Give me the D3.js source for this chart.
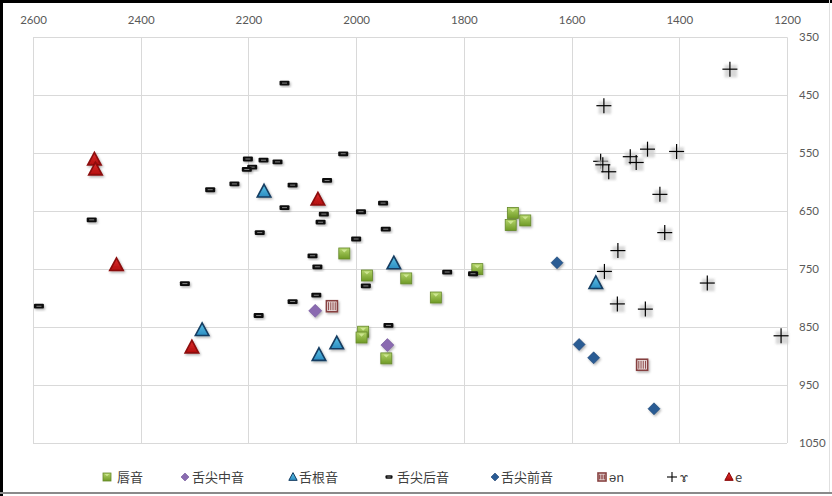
<!DOCTYPE html>
<html>
<head>
<meta charset="utf-8">
<script src="https://cdn.jsdelivr.net/npm/d3@7"></script>
<style>
  html, body { margin: 0; padding: 0; background: #fff; }
  svg { display: block; }
  .tick text { font-family: Lato, "Open Sans", sans-serif; font-size: 11.5px; fill: #595959; }
  .legend text { font-family: "Noto Sans CJK SC", sans-serif; font-size: 13px; fill: #404040; }
</style>
</head>
<body>
<svg id="chart" width="832" height="496"></svg>
<script>
// F2 (x) and F1 (y) in Hz for each consonant group
const labialF2 = [2022, 1980, 1907, 1987, 1990, 1944, 1852, 1775, 1709, 1686, 1713];
const labialF1 = [723, 761, 766, 858, 868, 904, 799, 750, 653, 666, 674];

const alveolarF2 = [2076, 1942];
const alveolarF1 = [822, 881];

const velarF2 = [2171, 1930, 2286, 2036, 2069, 1555];
const velarF1 = [616, 740, 855, 878, 898, 774];

const retroflexF2 = [2133, 2201, 2172, 2146, 2193, 2203, 2024, 2054, 2118, 2226, 2271, 2133, 1950, 1991, 2060, 2066,
                     2491, 2179, 1945, 2000, 2081, 2072, 2318, 2589, 1982, 2074, 2118, 2181, 1940, 1831, 1783];
const retroflexF1 = [429, 560, 562, 565, 574, 578, 551, 597, 605, 603, 613, 644, 636, 651, 655, 669,
                     665, 687, 681, 698, 727, 746, 775, 814, 779, 795, 806, 830, 847, 755, 758];

const dentalF2 = [1627, 1586, 1559, 1447];
const dentalF1 = [739, 880, 903, 991];

const enF2 = [2045, 1469];
const enF1 = [814, 915];

const gammaF2 = [1306, 1540, 1546, 1542, 1531, 1491, 1480, 1459, 1405, 1436, 1427, 1514, 1539, 1348, 1515, 1463, 1211];
const gammaF1 = [405, 468, 564, 570, 582, 556, 566, 543, 547, 621, 687, 718, 754, 774, 810, 819, 865];

const eF2 = [2486, 2484, 2071, 2445, 2305];
const eF1 = [561, 578, 630, 743, 885];

const xTicks = [2600, 2400, 2200, 2000, 1800, 1600, 1400, 1200];
const yTicks = [350, 450, 550, 650, 750, 850, 950, 1050];

const seriesNames = ["唇音", "舌尖中音", "舌根音", "舌尖后音", "舌尖前音", "ən", "ɤ", "e"];

const svg = d3.select("#chart");
const W = 832, H = 496;

const x = d3.scaleLinear().domain([2600, 1200]).range([33, 787]);
const y = d3.scaleLinear().domain([350, 1050]).range([37.3, 443]);

const defs = svg.append("defs");
const sh = defs.append("filter").attr("id", "shadow")
  .attr("x", "-50%").attr("y", "-50%").attr("width", "200%").attr("height", "200%");
sh.append("feDropShadow").attr("dx", 1.2).attr("dy", 1.5).attr("stdDeviation", 1)
  .attr("flood-color", "#000").attr("flood-opacity", 0.3);
const blur = defs.append("filter").attr("id", "soft")
  .attr("x", "-50%").attr("y", "-50%").attr("width", "200%").attr("height", "200%");
blur.append("feGaussianBlur").attr("stdDeviation", 1.2);

const gGreen = defs.append("linearGradient").attr("id", "gGreen").attr("x1", 0).attr("y1", 0).attr("x2", 0).attr("y2", 1);
gGreen.append("stop").attr("offset", "0%").attr("stop-color", "#b3d46a");
gGreen.append("stop").attr("offset", "100%").attr("stop-color", "#6f9a25");
const gBlue = defs.append("linearGradient").attr("id", "gBlue").attr("x1", 0).attr("y1", 0).attr("x2", 0).attr("y2", 1);
gBlue.append("stop").attr("offset", "0%").attr("stop-color", "#5fc3e6");
gBlue.append("stop").attr("offset", "100%").attr("stop-color", "#2b8dc2");
const gRed = defs.append("linearGradient").attr("id", "gRed").attr("x1", 0).attr("y1", 0).attr("x2", 0).attr("y2", 1);
gRed.append("stop").attr("offset", "0%").attr("stop-color", "#e03030");
gRed.append("stop").attr("offset", "100%").attr("stop-color", "#b00d0d");

// frame
svg.append("rect").attr("x", 0).attr("y", 0).attr("width", W).attr("height", H).attr("fill", "#fff");
svg.append("rect").attr("x", 0).attr("y", 0).attr("width", 3).attr("height", H).attr("fill", "#000");
svg.append("rect").attr("x", 0).attr("y", 0).attr("width", W).attr("height", 3).attr("fill", "#000");
svg.append("rect").attr("x", 0).attr("y", 492).attr("width", W).attr("height", 2).attr("fill", "#8a8a8a");
svg.append("rect").attr("x", 829).attr("y", 0).attr("width", 1).attr("height", 492).attr("fill", "#e0e0e0");

// grid
const grid = svg.append("g");
grid.selectAll("line.v").data(xTicks).join("line")
  .attr("x1", d => Math.round(x(d)) + 0.5).attr("x2", d => Math.round(x(d)) + 0.5)
  .attr("y1", y(350)).attr("y2", y(1050))
  .attr("stroke", "#d9d9d9").attr("stroke-width", 1);
grid.selectAll("line.h").data(yTicks).join("line")
  .attr("y1", d => Math.round(y(d)) + 0.5).attr("y2", d => Math.round(y(d)) + 0.5)
  .attr("x1", x(2600)).attr("x2", x(1200))
  .attr("stroke", "#d9d9d9").attr("stroke-width", 1);

// axes
const xAxis = svg.append("g").attr("transform", "translate(0,24)")
  .call(d3.axisTop(x).tickValues(xTicks).tickSize(0).tickPadding(0).tickFormat(d3.format("d")));
xAxis.select(".domain").remove();
const yAxis = svg.append("g").attr("transform", "translate(799,0)")
  .call(d3.axisRight(y).tickValues(yTicks).tickSize(0).tickPadding(0).tickFormat(d3.format("d")));
yAxis.select(".domain").remove();

// marker painters
function square(g, s) {
  g.append("rect").attr("x", -s / 2).attr("y", -s / 2).attr("width", s).attr("height", s)
    .attr("fill", "url(#gGreen)").attr("stroke", "#65882a").attr("stroke-width", 0.8);
  g.append("path").attr("d", `M${-s * 0.28},${-s * 0.36}L${s * 0.28},${-s * 0.36}L0,${-s * 0.08}Z`)
    .attr("fill", "#d4ea9a").attr("opacity", 0.85);
}
function diamond(color, stroke) {
  return (g, s) => g.append("path")
    .attr("d", `M0,${-s / 2}L${s / 2},0L0,${s / 2}L${-s / 2},0Z`)
    .attr("fill", color).attr("stroke", stroke).attr("stroke-width", 0.6);
}
function triangle(fill, stroke) {
  return (g, s) => g.append("path")
    .attr("d", `M0,${-s * 0.55}L${s * 0.52},${s * 0.42}L${-s * 0.52},${s * 0.42}Z`)
    .attr("fill", fill).attr("stroke", stroke).attr("stroke-width", s > 9 ? 1.6 : 1).attr("stroke-linejoin", "miter");
}
function dash(g, s) {
  g.append("rect").attr("x", -s / 2).attr("y", -s * 0.24).attr("width", s).attr("height", s * 0.48)
    .attr("rx", 1).attr("fill", "#111");
  g.append("rect").attr("x", -s * 0.25).attr("y", -0.4).attr("width", s * 0.5).attr("height", 0.8)
    .attr("fill", "#9a9a9a");
}
function striped(g, s) {
  g.append("rect").attr("x", -s / 2).attr("y", -s / 2).attr("width", s).attr("height", s)
    .attr("fill", "#f4eeee").attr("stroke", "#86403f").attr("stroke-width", 1.6);
  const n = 4;
  for (let i = 0; i < n; i++) {
    const cx = -s / 2 + (s / (n + 1)) * (i + 1);
    g.append("rect").attr("x", cx - 0.55).attr("y", -s / 2 + 1.5).attr("width", 1.1).attr("height", s - 3)
      .attr("fill", "#8e4a49");
  }
}
function cross(g, s) {
  g.append("rect").attr("x", -s * 0.42 + 1).attr("y", -s * 0.42 + 2).attr("width", s * 0.84).attr("height", s * 0.84)
    .attr("fill", "#cfcfcf").attr("filter", "url(#soft)").attr("opacity", 0.8);
  g.append("line").attr("x1", -s / 2).attr("x2", s / 2).attr("y1", 0).attr("y2", 0)
    .attr("stroke", "#000").attr("stroke-width", 1.2);
  g.append("line").attr("x1", 0).attr("x2", 0).attr("y1", -s / 2).attr("y2", s / 2)
    .attr("stroke", "#000").attr("stroke-width", 1.2);
}

const series = [
  { name: seriesNames[0], xs: labialF2, ys: labialF1, draw: square, size: 11, shadow: true },
  { name: seriesNames[1], xs: alveolarF2, ys: alveolarF1, draw: diamond("#8a6bb0", "#6f5397"), size: 13, shadow: true },
  { name: seriesNames[2], xs: velarF2, ys: velarF1, draw: triangle("url(#gBlue)", "#143d62"), size: 13, shadow: true },
  { name: seriesNames[3], xs: retroflexF2, ys: retroflexF1, draw: dash, size: 10, shadow: true },
  { name: seriesNames[4], xs: dentalF2, ys: dentalF1, draw: diamond("#2a5b94", "#1c416e"), size: 12, shadow: true },
  { name: seriesNames[5], xs: enF2, ys: enF1, draw: striped, size: 11, shadow: true },
  { name: seriesNames[6], xs: gammaF2, ys: gammaF1, draw: cross, size: 15, shadow: false },
  { name: seriesNames[7], xs: eF2, ys: eF1, draw: triangle("url(#gRed)", "#8b0a0a"), size: 13, shadow: true }
];

const plot = svg.append("g");
series.forEach(s => {
  const pts = s.xs.map((v, i) => [v, s.ys[i]]);
  const g = plot.append("g");
  g.selectAll("g").data(pts).join("g")
    .attr("transform", d => `translate(${x(d[0])},${y(d[1])})`)
    .attr("filter", s.shadow ? "url(#shadow)" : null)
    .each(function () { s.draw(d3.select(this), s.size); });
});

// legend
const legendPos = [
  { mx: 107, tx: 117 }, { mx: 185, tx: 192 }, { mx: 293, tx: 299 }, { mx: 389, tx: 397 },
  { mx: 495, tx: 501 }, { mx: 602, tx: 609 }, { mx: 672, tx: 680 }, { mx: 729, tx: 735 }
];
const legend = svg.append("g").attr("class", "legend");
series.forEach((s, i) => {
  const m = legend.append("g").attr("transform", `translate(${legendPos[i].mx},477)`);
  const lsize = s.draw === cross ? 11 : (s.draw === dash ? 7 : 8);
  if (s.draw === cross) {
    m.append("line").attr("x1", -5).attr("x2", 5).attr("y1", 0).attr("y2", 0).attr("stroke", "#000").attr("stroke-width", 1.1);
    m.append("line").attr("x1", 0).attr("x2", 0).attr("y1", -5).attr("y2", 5).attr("stroke", "#000").attr("stroke-width", 1.1);
  } else {
    s.draw(m, lsize);
  }
  legend.append("text").attr("x", legendPos[i].tx).attr("y", 477).attr("dy", "0.36em").text(s.name);
});
</script>
</body>
</html>
